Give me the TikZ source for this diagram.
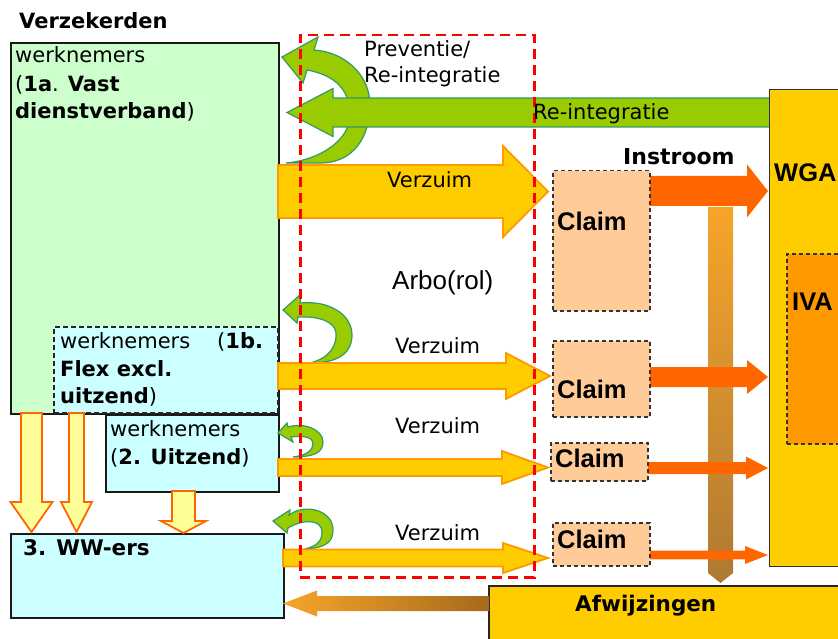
\documentclass[tikz,border=0pt]{standalone}
\usepackage{fontspec}
\setmainfont{DejaVu Sans}
\newfontfamily\arialf{Liberation Sans}
\definecolor{boxgreen}{HTML}{CCFFCC}
\definecolor{boxcyan}{HTML}{CCFFFF}
\definecolor{gold}{HTML}{FFCC00}
\definecolor{goldline}{HTML}{FF9900}
\definecolor{claimfill}{HTML}{FFCC99}
\definecolor{orangeA}{HTML}{FF6600}
\definecolor{ivafill}{HTML}{FF9900}
\definecolor{lime}{HTML}{99CC00}
\definecolor{limeline}{HTML}{339966}
\definecolor{paleyellow}{HTML}{FFFF99}
\definecolor{gradlight}{HTML}{F7A52A}
\definecolor{graddark}{HTML}{A66A1C}
\newcommand\blkh[7]{% style, x1, xh, xt, yc, b, h
  \path[#1] ({#2},{#5-#6}) -- ({#3},{#5-#6}) -- ({#3},{#5-#7}) -- ({#4},{#5}) -- ({#3},{#5+#7}) -- ({#3},{#5+#6}) -- ({#2},{#5+#6}) -- cycle;}
\newcommand\blkv[7]{% style, xc, y1, yh, yt, b, h
  \path[#1] ({#2-#6},{#3}) -- ({#2-#6},{#4}) -- ({#2-#7},{#4}) -- ({#2},{#5}) -- ({#2+#7},{#4}) -- ({#2+#6},{#4}) -- ({#2+#6},{#3}) -- cycle;}
\tikzset{
  solidbox/.style={draw=black!90, line width=2pt, inner sep=0pt, anchor=north west},
  claimbox/.style={draw=black!80, fill=claimfill, line width=1.5pt, dash pattern=on 4pt off 3pt, inner sep=0pt, anchor=north west},
  greenarrow/.style={fill=lime, draw=limeline, line width=1.2pt},
  verzuimarrow/.style={fill=gold, draw=goldline, line width=1.8pt},
  orangearrow/.style={fill=orangeA},
  downarrow/.style={fill=paleyellow, draw=orangeA, line width=1.8pt},
  lbl/.style={anchor=base west, inner sep=0pt, font=\fontsize{21}{25}\selectfont},
  blbl/.style={lbl, font=\fontsize{21}{25}\selectfont\bfseries},
  clm/.style={anchor=base west, inner sep=0pt, font=\fontsize{25.5}{30}\selectfont\arialf\bfseries},
}
\begin{document}
\begin{tikzpicture}[x=1pt,y=-1pt]
\useasboundingbox (0,0) rectangle (838,639);
\clip (0,0) rectangle (838,639);
\fill[white] (0,0) rectangle (838,639);

% boxes on the left
\node[solidbox, fill=boxgreen, minimum width=268pt, minimum height=371pt] (vast) at (10,42) {};
\node[draw=black!85, fill=boxcyan, line width=1.6pt, dash pattern=on 5pt off 3pt, inner sep=0pt, anchor=north west, minimum width=224pt, minimum height=86pt] (flex) at (53,326) {};
\node[solidbox, fill=boxcyan, minimum width=173pt, minimum height=77pt] (uitzend) at (105,414) {};
\node[solidbox, fill=boxcyan, minimum width=273pt, minimum height=84pt] (ww) at (10,533) {};

% curved green arrows
\path[greenarrow] (286,163) .. controls (320,160) and (350,140) .. (350,115) .. controls (350,90) and (335,75) .. (307,70) -- (303,83) -- (282,57) -- (318,37) -- (314,50) .. controls (345,52) and (370,75) .. (370,105) .. controls (370,135) and (355,163) .. (320,163) -- cycle;
\path[greenarrow] (310,363) .. controls (330,358) and (337,345) .. (336,333) .. controls (335,322) and (320,316) .. (298,317) -- (297,323) -- (283,310) -- (301,294) -- (300,303) .. controls (330,300) and (352,315) .. (352,335) .. controls (352,352) and (340,363) .. (310,363) -- cycle;
\path[greenarrow] (293,457) .. controls (308,455) and (313,450) .. (313,443) .. controls (313,438) and (305,435) .. (291,437) -- (293,442) -- (278,433) -- (287,423) -- (288,427) .. controls (305,422) and (323,430) .. (323,442) .. controls (323,452) and (315,457) .. (293,457) -- cycle;
\path[greenarrow] (305,549) .. controls (318,546) and (322,540) .. (322,532) .. controls (322,520) and (305,518) .. (288,528) -- (287,533) -- (273,521) -- (290,510) -- (289,515) .. controls (305,503) and (333,510) .. (333,530) .. controls (333,540) and (328,548) .. (305,549) -- cycle;

% Re-integratie arrow
\blkh{greenarrow}{775}{333}{287}{112.5}{14.5}{24}

% WGA and IVA
\node[draw=black!80, fill=gold, line width=1.3pt, inner sep=0pt, anchor=north west, minimum width=80pt, minimum height=477pt] (wga) at (769,89) {};
\node[draw=black!80, fill=ivafill, line width=1.5pt, dash pattern=on 4pt off 3pt, inner sep=0pt, anchor=north west, minimum width=60pt, minimum height=190pt] (iva) at (786,253) {};

% Verzuim arrows
\blkh{verzuimarrow}{278}{503}{548}{191.5}{26.5}{45.5}
\blkh{verzuimarrow}{278}{506}{550}{376}{13}{23}
\blkh{verzuimarrow}{278}{502}{548}{467.5}{8.5}{16.5}
\blkh{verzuimarrow}{283}{503}{548}{558}{8.5}{15}

% vertical gradient bar
\blkv{top color=gradlight, bottom color=graddark!90}{720.5}{207}{573}{583}{12.5}{12.5}

% orange arrows to WGA
\blkh{orangearrow}{649}{747}{768}{191}{15}{26.5}
\blkh{orangearrow}{649}{747}{768}{377}{10}{17}
\blkh{orangearrow}{647}{746}{768}{468}{6}{11.5}
\blkh{orangearrow}{649}{745}{768}{555}{4.3}{9}

% claim boxes
\node[claimbox, minimum width=97pt, minimum height=140pt] (claim1) at (552,170) {};
\node[claimbox, minimum width=97pt, minimum height=76pt] (claim2) at (552,340) {};
\node[claimbox, minimum width=97pt, minimum height=38pt] (claim3) at (550,442) {};
\node[claimbox, minimum width=97pt, minimum height=43pt] (claim4) at (552,522) {};

% Afwijzingen
\node[draw=black!85, fill=gold, line width=1.6pt, inner sep=0pt, anchor=north west, minimum width=360pt, minimum height=70pt] (afw) at (488,585) {};
\blkh{left color=gradlight, right color=graddark}{489}{317}{283}{603.5}{7.5}{13}

% downward arrows to WW-ers
\blkv{downarrow}{31.5}{413}{502}{532}{10.5}{21}
\blkv{downarrow}{76.5}{413}{502}{532}{7.5}{15.5}
\blkv{downarrow}{183.5}{491}{521}{533}{11.5}{22.5}

% red dashed Arbo frame
\node[draw=red, line width=2.5pt, dash pattern=on 10pt off 6pt, inner sep=0pt, anchor=north west, minimum width=234pt, minimum height=542pt] (arbo) at (299,34) {};

% texts
\node[blbl] (tverz) at (19,29) {Verzekerden};
\node[lbl] (t1a1) at (15,63) {werknemers};
\node[lbl] (t1a2) at (15,92) {(\textbf{1a}. \textbf{Vast}};
\node[lbl] (t1a3) at (15,119) {\textbf{dienstverband})};
\node[lbl] (t1b1) at (60,348) {werknemers};
\node[lbl] (t1b1b) at (217,348) {(\textbf{1b.}};
\node[lbl] (t1b2) at (60,376) {\textbf{Flex excl.}};
\node[lbl] (t1b3) at (60,403) {\textbf{uitzend})};
\node[lbl] (t21) at (110,436) {werknemers};
\node[lbl] (t22) at (110,464) {(\textbf{2. Uitzend})};
\node[blbl, font=\fontsize{21.5}{25}\selectfont\bfseries] (t3) at (23,555) {3. WW-ers};
\node[lbl] (tprev1) at (364,57) {Preventie/};
\node[lbl] (tprev2) at (364,83) {Re-integratie};
\node[lbl] (treint) at (533,120) {Re-integratie};
\node[lbl] (tvz1) at (387,188) {Verzuim};
\node[lbl] (tvz2) at (395,353) {Verzuim};
\node[lbl] (tvz3) at (395,433) {Verzuim};
\node[lbl] (tvz4) at (395,540) {Verzuim};
\node[blbl, font=\fontsize{22}{25}\selectfont\bfseries] (tin) at (623,165) {Instroom};
\node[clm] (tc1) at (557,231) {Claim};
\node[clm] (tc2) at (557,398) {Claim};
\node[clm] (tc3) at (555,467) {Claim};
\node[clm] (tc4) at (557,548) {Claim};
\node[clm] (twga) at (774,182) {WGA};
\node[clm] (tiva) at (792,310) {IVA};
\node[anchor=base west, inner sep=0pt, font=\fontsize{26}{30}\selectfont\arialf] (tarbo) at (392,289) {Arbo(rol)};
\node[blbl, font=\fontsize{21.5}{25}\selectfont\bfseries] (tafw) at (575,611) {Afwijzingen};
\end{tikzpicture}
\end{document}
